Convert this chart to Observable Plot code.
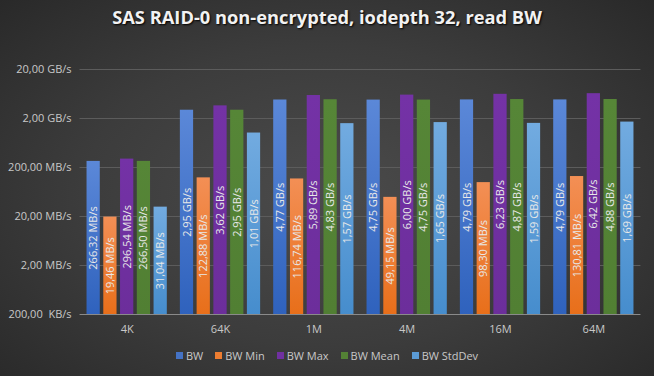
<!DOCTYPE html>
<html>
<head>
<meta charset="utf-8">
<script src="https://cdn.jsdelivr.net/npm/d3@7"></script>
<script src="https://cdn.jsdelivr.net/npm/@observablehq/plot@0.6"></script>
<style>
  html, body { margin: 0; padding: 0; }
  #chart {
    width: 654px; height: 376px; overflow: hidden;
    background: radial-gradient(ellipse 75% 80% at 50% 52%, #4b4b4b 0%, #3c3c3c 50%, #262626 100%);
    font-family: "Open Sans", "Noto Sans", sans-serif;
  }
  #title {
    height: 34px; line-height: 34px; text-align: center;
    font-size: 18.3px; font-weight: 700; color: #f2f2f2;
    text-shadow: 1px 1px 2px #000;
  }
  #legend {
    height: 31px; display: flex; justify-content: center; align-items: center;
    font-size: 11px; color: #c8c8c8; gap: 0;
  }
  #legend .item { display: flex; align-items: center; margin: 0 6px; }
  #legend .sw { width: 7px; height: 7px; margin-right: 3px; }
  svg text { white-space: pre; }
</style>
</head>
<body>
<div id="chart">
  <div id="title">SAS RAID-0 non-encrypted, iodepth 32, read BW</div>
  <div id="plot"></div>
  <div id="legend"></div>
</div>
<script>
// Categories (block sizes) and series
const sizes = ["4K", "64K", "1M", "4M", "16M", "64M"];
const series = ["BW", "BW Min", "BW Max", "BW Mean", "BW StdDev"];
// Values in MB/s
const bw       = [266.32, 2950, 4770, 4750, 4790, 4790];
const bwMin    = [19.46, 122.88, 116.74, 49.15, 98.30, 130.81];
const bwMax    = [296.54, 3620, 5890, 6000, 6230, 6420];
const bwMean   = [266.50, 2950, 4830, 4750, 4870, 4880];
const bwStdDev = [31.04, 1010, 1570, 1650, 1590, 1690];
// Y ticks (MB/s) and their labels
const yTicks = [0.2, 2, 20, 200, 2000, 20000];
const yTickLabels = ["200,00  KB/s", "2,00 MB/s", "20,00 MB/s", "200,00 MB/s", "2,00 GB/s", "20,00 GB/s"];

const colors = ["#4472C4", "#ED7D31", "#7030A0", "#548235", "#5B9BD5"];
const gradStops = [
  ["#5b88d8", "#2f62bd"],
  ["#f38f55", "#e86f1a"],
  ["#7432a6", "#6c2e9b"],
  ["#568637", "#517f33"],
  ["#72abe0", "#468dcd"]
];

const seriesValues = [bw, bwMin, bwMax, bwMean, bwStdDev];
const data = [];
sizes.forEach((s, i) => {
  series.forEach((k, j) => {
    data.push({size: s, series: k, value: seriesValues[j][i]});
  });
});

const fmt = v => v >= 1000
  ? (v / 1000).toFixed(2).replace(".", ",") + " GB/s"
  : v.toFixed(2).replace(".", ",") + " MB/s";

const base = yTicks[0];

const plot = Plot.plot({
  width: 654,
  height: 306,
  marginLeft: 80,
  marginRight: 14,
  marginTop: 35,
  marginBottom: 26,
  style: {background: "transparent", fontFamily: "'Open Sans', 'Noto Sans', sans-serif", fontSize: "11px"},
  fx: {domain: sizes, paddingInner: 0.14, paddingOuter: 0.07, round: false, label: null, axis: null},
  x: {domain: series, paddingInner: 0.21, paddingOuter: 0, round: false, axis: null},
  y: {type: "log", domain: [yTicks[0], yTicks[yTicks.length - 1]], axis: null, label: null},
  color: {domain: series, range: series.map((_, i) => `url(#grad${i})`)},
  marks: [
    Plot.ruleY(yTicks.slice(1), {stroke: "#5c5c5c", strokeWidth: 1, insetLeft: -7, insetRight: -7}),
    Plot.barY(data, {fx: "size", x: "series", y1: base, y2: "value", fill: "series"}),
    Plot.text(data, {
      fx: "size", x: "series",
      y: d => Math.sqrt(base * d.value),
      text: d => fmt(d.value),
      rotate: -90,
      fill: "#e8e8e8",
      fontSize: 11
    }),
    Plot.ruleY([base], {stroke: "#8a8a8a", strokeWidth: 1, insetLeft: -7, insetRight: -7}),
    Plot.axisY({
      ticks: yTicks,
      tickFormat: (d) => yTickLabels[yTicks.indexOf(d)],
      tickSize: 0,
      tickPadding: 15.5,
      fontSize: 11,
      label: null,
      color: "#c8c8c8"
    }),
    Plot.axisFx({anchor: "bottom", tickSize: 0, tickPadding: 10.5, fontSize: 11, color: "#c8c8c8", label: null})
  ]
});

// gradient defs
const svgNS = "http://www.w3.org/2000/svg";
const defs = document.createElementNS(svgNS, "defs");
gradStops.forEach((st, i) => {
  const g = document.createElementNS(svgNS, "linearGradient");
  g.setAttribute("id", "grad" + i);
  g.setAttribute("x1", "0"); g.setAttribute("y1", "0");
  g.setAttribute("x2", "0"); g.setAttribute("y2", "1");
  [[0, st[0]], [1, st[1]]].forEach(([o, c]) => {
    const s = document.createElementNS(svgNS, "stop");
    s.setAttribute("offset", o);
    s.setAttribute("stop-color", c);
    g.appendChild(s);
  });
  defs.appendChild(g);
});
plot.insertBefore(defs, plot.firstChild);
document.getElementById("plot").appendChild(plot);

// legend
const legend = document.getElementById("legend");
series.forEach((k, i) => {
  const it = document.createElement("div");
  it.className = "item";
  it.innerHTML = `<span class="sw" style="background:${colors[i]}"></span><span>${k}</span>`;
  legend.appendChild(it);
});
</script>
</body>
</html>
